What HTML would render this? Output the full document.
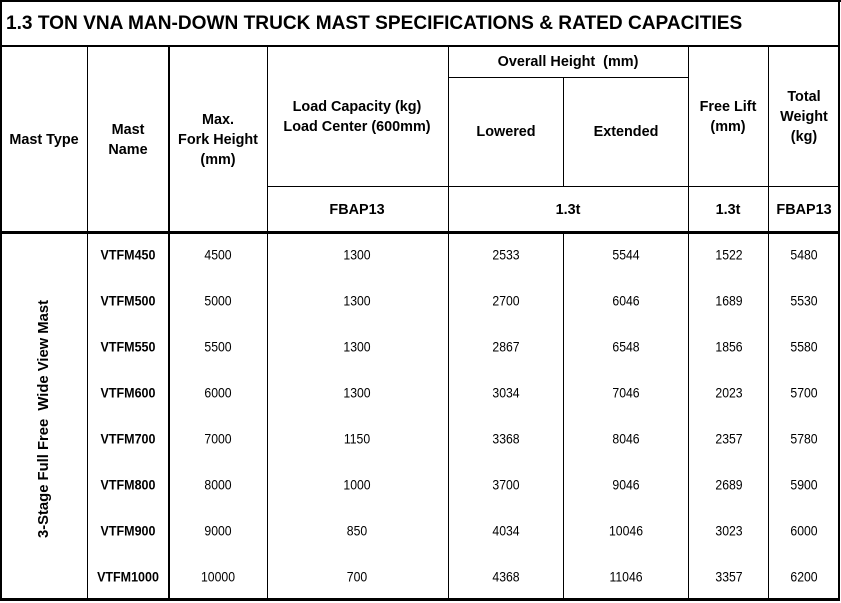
<!DOCTYPE html>
<html><head><meta charset="utf-8"><style>
body{margin:0;width:841px;height:603px;background:#fff;position:relative;overflow:hidden;font-family:"Liberation Sans",Arial,sans-serif;color:#000}
.l{position:absolute;background:#000}
.t{position:absolute;text-align:center;font-weight:bold;font-size:14.4px;line-height:20px;transform:translate(-50%,-50%);white-space:nowrap}
.d{position:absolute;font-size:13.6px;transform:translate(-50%,-50%) scaleX(0.9);white-space:nowrap}
.b{font-weight:bold;font-size:13.6px;transform:translate(-50%,-50%) scaleX(0.92)}
</style></head><body>
<div class="l" style="left:0;top:0;width:841px;height:2px"></div>
<div class="l" style="left:0;top:0;width:2px;height:601px"></div>
<div class="l" style="left:838px;top:0;width:2px;height:601px"></div>
<div class="l" style="left:0;top:598px;width:840px;height:3px"></div>
<div class="l" style="left:0;top:45px;width:840px;height:2px"></div>
<div class="l" style="left:0;top:231px;width:840px;height:3px"></div>
<div class="l" style="left:87px;top:46px;width:1px;height:553px"></div>
<div class="l" style="left:168px;top:46px;width:2px;height:553px"></div>
<div class="l" style="left:267px;top:46px;width:1px;height:553px"></div>
<div class="l" style="left:448px;top:46px;width:1px;height:553px"></div>
<div class="l" style="left:563px;top:77px;width:1px;height:109px"></div>
<div class="l" style="left:563px;top:233px;width:1px;height:366px"></div>
<div class="l" style="left:688px;top:46px;width:1px;height:553px"></div>
<div class="l" style="left:768px;top:46px;width:1px;height:553px"></div>
<div class="l" style="left:448px;top:77px;width:240px;height:1px"></div>
<div class="l" style="left:267px;top:186px;width:572px;height:1px"></div>

<div style="position:absolute;left:6px;top:13px;font-weight:bold;font-size:19.1px;white-space:nowrap">1.3 TON VNA MAN-DOWN TRUCK MAST SPECIFICATIONS &amp; RATED CAPACITIES</div>

<div class="t" style="left:44px;top:140px">Mast Type</div>
<div class="t" style="left:128px;top:140px">Mast<br>Name</div>
<div class="t" style="left:218px;top:140px">Max.<br>Fork Height<br>(mm)</div>
<div class="t" style="left:357px;top:117px">Load Capacity (kg)<br>Load Center (600mm)</div>
<div class="t" style="left:568px;top:62px">Overall Height&nbsp; (mm)</div>
<div class="t" style="left:506px;top:132px">Lowered</div>
<div class="t" style="left:626px;top:132px">Extended</div>
<div class="t" style="left:728px;top:117px">Free Lift<br>(mm)</div>
<div class="t" style="left:804px;top:117px">Total<br>Weight<br>(kg)</div>
<div class="t" style="left:357px;top:210px">FBAP13</div>
<div class="t" style="left:568px;top:210px">1.3t</div>
<div class="t" style="left:728px;top:210px">1.3t</div>
<div class="t" style="left:804px;top:210px">FBAP13</div>

<div class="t" style="left:44px;top:419px;transform:translate(-50%,-50%) rotate(-90deg);font-size:14.8px">3-Stage Full Free&nbsp; Wide View Mast</div>

<div id="rows"></div>
<script>
var data=[["VTFM450",4500,1300,2533,5544,1522,5480],["VTFM500",5000,1300,2700,6046,1689,5530],["VTFM550",5500,1300,2867,6548,1856,5580],["VTFM600",6000,1300,3034,7046,2023,5700],["VTFM700",7000,1150,3368,8046,2357,5780],["VTFM800",8000,1000,3700,9046,2689,5900],["VTFM900",9000,850,4034,10046,3023,6000],["VTFM1000",10000,700,4368,11046,3357,6200]];
var xs=[128,218,357,506,626,729,804],h="";
data.forEach(function(r,i){var y=255+46*i;r.forEach(function(v,j){h+='<div class="d'+(j==0?' b':'')+'" style="left:'+xs[j]+'px;top:'+y+'px">'+v+'</div>';});});
document.getElementById("rows").innerHTML=h;
</script>
</body></html>
